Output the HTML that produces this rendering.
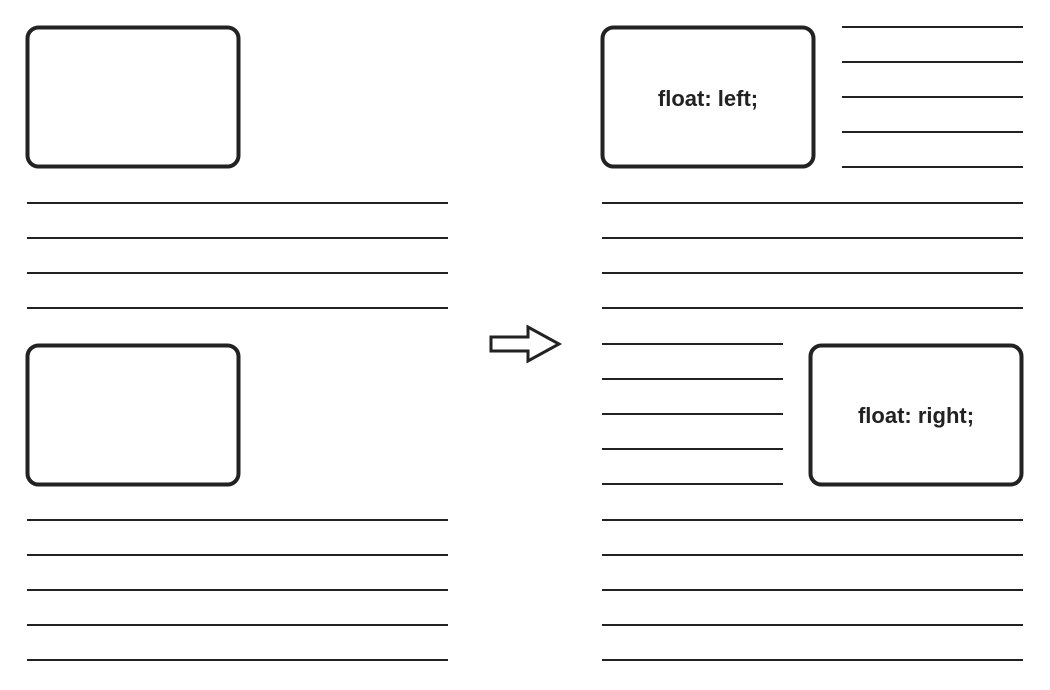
<!DOCTYPE html>
<html><head><meta charset="utf-8"><style>
html,body{margin:0;padding:0;background:#fff;}
svg{display:block;}
</style></head><body>
<svg width="1050" height="690" viewBox="0 0 1050 690">
<g fill="none" stroke="#222" stroke-width="4">
  <rect x="27.5" y="27.5" width="211" height="139" rx="11"/>
  <rect x="27.5" y="345.5" width="211" height="139" rx="11"/>
  <rect x="602.5" y="27.5" width="211" height="139" rx="11"/>
  <rect x="810.5" y="345.5" width="211" height="139" rx="11"/>
</g>
<g stroke="#222" stroke-width="2">
  <line x1="27" y1="203" x2="448" y2="203"/>
  <line x1="27" y1="238" x2="448" y2="238"/>
  <line x1="27" y1="273" x2="448" y2="273"/>
  <line x1="27" y1="308" x2="448" y2="308"/>
  <line x1="27" y1="520" x2="448" y2="520"/>
  <line x1="27" y1="555" x2="448" y2="555"/>
  <line x1="27" y1="590" x2="448" y2="590"/>
  <line x1="27" y1="625" x2="448" y2="625"/>
  <line x1="27" y1="660" x2="448" y2="660"/>

  <line x1="842" y1="27" x2="1023" y2="27"/>
  <line x1="842" y1="62" x2="1023" y2="62"/>
  <line x1="842" y1="97" x2="1023" y2="97"/>
  <line x1="842" y1="132" x2="1023" y2="132"/>
  <line x1="842" y1="167" x2="1023" y2="167"/>
  <line x1="602" y1="203" x2="1023" y2="203"/>
  <line x1="602" y1="238" x2="1023" y2="238"/>
  <line x1="602" y1="273" x2="1023" y2="273"/>
  <line x1="602" y1="308" x2="1023" y2="308"/>
  <line x1="602" y1="344" x2="783" y2="344"/>
  <line x1="602" y1="379" x2="783" y2="379"/>
  <line x1="602" y1="414" x2="783" y2="414"/>
  <line x1="602" y1="449" x2="783" y2="449"/>
  <line x1="602" y1="484" x2="783" y2="484"/>
  <line x1="602" y1="520" x2="1023" y2="520"/>
  <line x1="602" y1="555" x2="1023" y2="555"/>
  <line x1="602" y1="590" x2="1023" y2="590"/>
  <line x1="602" y1="625" x2="1023" y2="625"/>
  <line x1="602" y1="660" x2="1023" y2="660"/>
</g>
<polygon points="491,337 528,337 528,327 559,344 528,361 528,351 491,351" fill="none" stroke="#222" stroke-width="3" stroke-linejoin="miter"/>
<text x="708" y="106" text-anchor="middle" font-family="Liberation Sans, sans-serif" font-weight="bold" font-size="22" fill="#222">float: left;</text>
<text x="916" y="423" text-anchor="middle" font-family="Liberation Sans, sans-serif" font-weight="bold" font-size="22" fill="#222">float: right;</text>
</svg>
</body></html>
